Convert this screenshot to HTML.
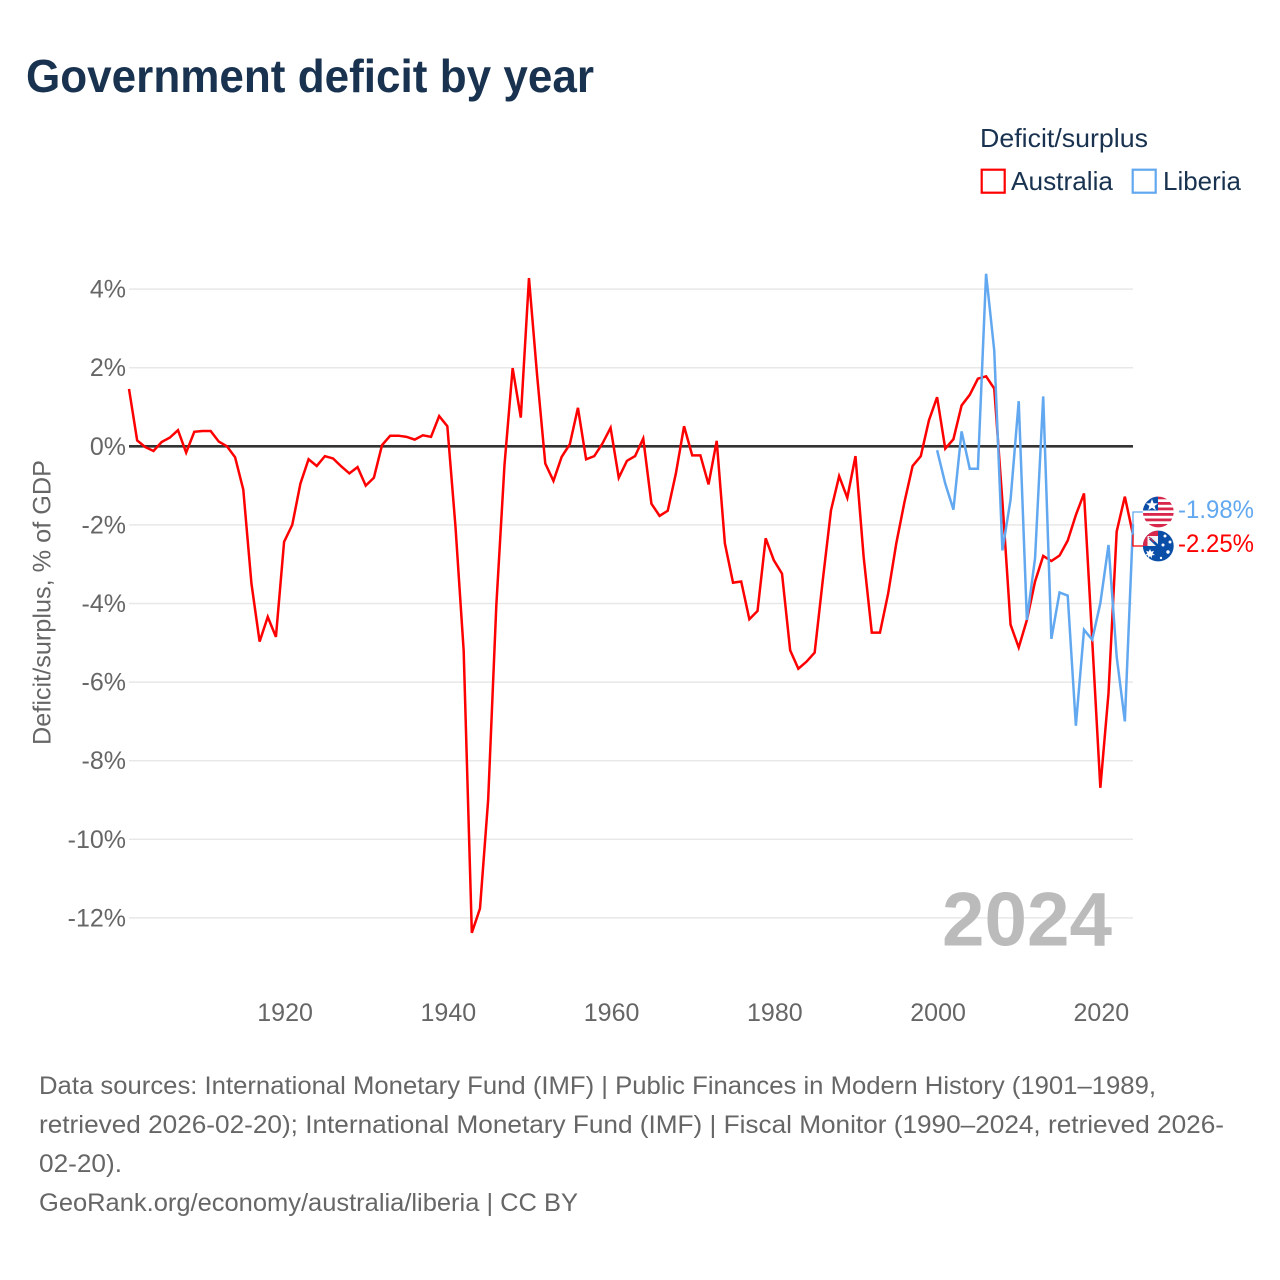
<!DOCTYPE html>
<html lang="en">
<head>
<meta charset="utf-8">
<title>Government deficit by year</title>
<style>
  html, body { margin: 0; padding: 0; background: #fff; }
  svg { display: block; font-family: "Liberation Sans", sans-serif; }
  .tick { font-size: 25px; fill: #666; }
  .foot { font-size: 25px; fill: #666; }
  .leg { font-size: 26px; fill: #18324f; }
</style>
</head>
<body>
<svg id="chart" xmlns="http://www.w3.org/2000/svg" width="1280" height="1280" viewBox="0 0 1280 1280">
  <defs>
    <clipPath id="flag-clip-lr"><circle cx="1158.3" cy="512" r="15.4"/></clipPath>
    <clipPath id="flag-clip-au"><circle cx="1158.3" cy="546" r="15.4"/></clipPath>
  </defs>
  <rect width="1280" height="1280" fill="#fff"/>
  <text x="26" y="92" font-size="46" font-weight="700" fill="#18324f" textLength="568" lengthAdjust="spacingAndGlyphs">Government deficit by year</text>

  <text class="leg" x="980" y="147" textLength="168" lengthAdjust="spacingAndGlyphs">Deficit/surplus</text>
  <g>
    <rect x="981.7" y="169.7" width="23" height="23" fill="#fff" stroke="#ff0000" stroke-width="2.2"/>
    <text class="leg" x="1011" y="190" textLength="102" lengthAdjust="spacingAndGlyphs">Australia</text>
  </g>
  <g>
    <rect x="1132.7" y="169.7" width="23" height="23" fill="#fff" stroke="#62a8f0" stroke-width="2.2"/>
    <text class="leg" x="1163" y="190" textLength="78" lengthAdjust="spacingAndGlyphs">Liberia</text>
  </g>

  <g id="grid"></g>
  <g id="yticks"></g>
  <g id="xticks"></g>

  <text x="0" y="0" transform="translate(50.5,602.5) rotate(-90)" text-anchor="middle" font-size="25" fill="#666" textLength="285" lengthAdjust="spacingAndGlyphs">Deficit/surplus, % of GDP</text>

  <text id="year-watermark" x="942" y="945.5" font-size="76" font-weight="700" fill="#bbbbbb" textLength="170" lengthAdjust="spacingAndGlyphs">2024</text>

  <g id="series"></g>
  <g id="connectors"></g>

  <g clip-path="url(#flag-clip-lr)">
    <rect x="1142" y="496" width="33" height="33" fill="#fff"/>
    <rect x="1142" y="496.5" width="33" height="2.8" fill="#d8274a"/>
    <rect x="1142" y="502" width="33" height="2.8" fill="#d8274a"/>
    <rect x="1142" y="507.5" width="33" height="2.8" fill="#d8274a"/>
    <rect x="1142" y="513" width="33" height="2.8" fill="#d8274a"/>
    <rect x="1142" y="518.5" width="33" height="2.8" fill="#d8274a"/>
    <rect x="1142" y="524" width="33" height="4.5" fill="#d8274a"/>
    <rect x="1142" y="496" width="16" height="14.5" fill="#0a4ea8"/>
    <polygon points="1152,499 1153.6,503.2 1158,503.4 1154.6,506 1155.8,510.2 1152,507.8 1148.2,510.2 1149.4,506 1146,503.4 1150.4,503.2" fill="#fff"/>
  </g>
  <g clip-path="url(#flag-clip-au)">
    <rect x="1142" y="530" width="33" height="33" fill="#0a4ea8"/>
    <rect x="1142" y="530" width="16" height="16" fill="#d8274a"/>
    <rect x="1147.5" y="536" width="10.5" height="10" fill="#f3f3f3"/>
    <path d="M1150 538.5 L1158 546" stroke="#0a4ea8" stroke-width="2.6" fill="none"/>
    <path d="M1149 537 L1154 542" stroke="#d8274a" stroke-width="1.2" fill="none"/>
    <polygon points="1150,549 1151.2,551.6 1154,550.8 1152.6,553.4 1155,555 1152,555.4 1151.6,558.4 1150,556 1148.4,558.4 1148,555.4 1145,555 1147.4,553.4 1146,550.8 1148.8,551.6" fill="#fff"/>
    <circle cx="1165" cy="536" r="1.5" fill="#fff"/>
    <circle cx="1170" cy="542" r="1.5" fill="#fff"/>
    <circle cx="1163" cy="545" r="1.5" fill="#fff"/>
    <circle cx="1168" cy="552" r="1.7" fill="#fff"/>
    <circle cx="1161" cy="558" r="1.2" fill="#fff"/>
  </g>
  <text id="label-liberia" x="1178" y="518" font-size="25" fill="#62a8f0" textLength="76" lengthAdjust="spacingAndGlyphs"></text>
  <text id="label-australia" x="1178" y="552" font-size="25" fill="#ff0000" textLength="76" lengthAdjust="spacingAndGlyphs"></text>

  <g>
    <text class="foot" x="39" y="1094" textLength="1117" lengthAdjust="spacingAndGlyphs">Data sources: International Monetary Fund (IMF) | Public Finances in Modern History (1901–1989,</text>
    <text class="foot" x="39" y="1133" textLength="1185" lengthAdjust="spacingAndGlyphs">retrieved 2026-02-20); International Monetary Fund (IMF) | Fiscal Monitor (1990–2024, retrieved 2026-</text>
    <text class="foot" x="39" y="1172" textLength="83" lengthAdjust="spacingAndGlyphs">02-20).</text>
    <text class="foot" x="39" y="1211" textLength="539" lengthAdjust="spacingAndGlyphs">GeoRank.org/economy/australia/liberia | CC BY</text>
  </g>
</svg>
<script>
// Chart data
const australiaStartYear = 1901;
const australiaValues = [
  1.46, 0.15, -0.02, -0.12, 0.11, 0.22, 0.41, -0.16, 0.37, 0.39,
  0.39, 0.12, 0.0, -0.28, -1.10, -3.49, -4.97, -4.34, -4.85, -2.43,
  -2.0, -0.95, -0.33, -0.5, -0.25, -0.31, -0.51, -0.69, -0.53, -1.0,
  -0.8, 0.03, 0.27, 0.27, 0.24, 0.17, 0.28, 0.24, 0.77, 0.51,
  -2.05, -5.2, -12.38, -11.76, -9.0, -4.05, -0.48, 1.99, 0.73, 4.28,
  1.8, -0.44, -0.88, -0.27, 0.05, 0.98, -0.33, -0.25, 0.07, 0.47,
  -0.8, -0.37, -0.25, 0.2, -1.46, -1.77, -1.64, -0.69, 0.51, -0.23,
  -0.23, -0.97, 0.14, -2.47, -3.47, -3.44, -4.4, -4.19, -2.34, -2.9,
  -3.24, -5.19, -5.66, -5.48, -5.25, -3.4, -1.63, -0.76, -1.31, -0.25,
  -2.81, -4.74, -4.74, -3.75, -2.47, -1.42, -0.5, -0.25, 0.66, 1.25,
  -0.06, 0.18, 1.04, 1.31, 1.72, 1.78, 1.47, -1.4, -4.54, -5.12,
  -4.42, -3.44, -2.79, -2.92, -2.78, -2.4, -1.75, -1.2, -4.92, -8.69,
  -6.28, -2.17, -1.28, -2.25
];
const liberiaStartYear = 2000;
const liberiaValues = [
  -0.1, -0.95, -1.61, 0.38, -0.57, -0.57, 4.39, 2.44, -2.65, -1.36,
  1.15, -4.42, -2.85, 1.27, -4.9, -3.72, -3.8, -7.11, -4.67, -4.92,
  -3.99, -2.51, -5.35, -7.0, -1.98
];
const yTickValues = [4, 2, 0, -2, -4, -6, -8, -10, -12];
const xTickYears = [1920, 1940, 1960, 1980, 2000, 2020];

// Axis functions
const xDomain = [1901, 2024];
const xRange = [129, 1133];
const yZero = 446.3;
const yPerUnit = 39.3;
function xScale(year) {
  return xRange[0] + (year - xDomain[0]) * (xRange[1] - xRange[0]) / (xDomain[1] - xDomain[0]);
}
function yScale(v) {
  return yZero - v * yPerUnit;
}

const svgNS = 'http://www.w3.org/2000/svg';
function make(tag, parent, attrs, text) {
  const el = document.createElementNS(svgNS, tag);
  for (const k in attrs) el.setAttribute(k, attrs[k]);
  if (text !== undefined) el.textContent = text;
  parent.appendChild(el);
  return el;
}

const gridG = document.getElementById('grid');
const yTickG = document.getElementById('yticks');
const xTickG = document.getElementById('xticks');
const seriesG = document.getElementById('series');
const connG = document.getElementById('connectors');

yTickValues.forEach(function (v) {
  const line = make('line', gridG, {
    x1: xRange[0], x2: xRange[1], y1: yScale(v), y2: yScale(v),
    stroke: v === 0 ? '#333333' : '#e8e8e8',
    'stroke-width': v === 0 ? 2.6 : 1.5
  });
  
  
  const label = make('text', yTickG, {
    x: 126, y: yScale(v) + 8.5, 'text-anchor': 'end', class: 'tick'
  }, v + '%');
  
  
});

xTickYears.forEach(function (yr) {
  const label = make('text', xTickG, {
    x: xScale(yr) + 1, y: 1021, 'text-anchor': 'middle', class: 'tick'
  }, String(yr));
  
  
});

function pathFor(startYear, values) {
  return values.map(function (v, i) {
    return (i ? 'L' : 'M') + xScale(startYear + i).toFixed(2) + ' ' + yScale(v).toFixed(2);
  }).join(' ');
}

const ausLine = make('path', seriesG, {
  d: pathFor(australiaStartYear, australiaValues),
  fill: 'none', stroke: '#ff0000', 'stroke-width': 2.5, 'stroke-linejoin': 'miter'
});



const libLine = make('path', seriesG, {
  d: pathFor(liberiaStartYear, liberiaValues),
  fill: 'none', stroke: '#62a8f0', 'stroke-width': 2.5, 'stroke-linejoin': 'miter'
});



const ausLast = australiaValues[australiaValues.length - 1];
const libLast = liberiaValues[liberiaValues.length - 1];

const connAus = make('path', connG, {
  d: 'M' + xRange[1] + ' ' + yScale(ausLast) + ' V546 H1143',
  fill: 'none', stroke: '#ff0000', 'stroke-width': 1.3
});



const connLib = make('path', connG, {
  d: 'M' + xRange[1] + ' ' + yScale(libLast) + ' V512 H1143',
  fill: 'none', stroke: '#62a8f0', 'stroke-width': 1.3
});



document.getElementById('label-liberia').textContent = libLast.toFixed(2) + '%';
document.getElementById('label-australia').textContent = ausLast.toFixed(2) + '%';
</script>
</body>
</html>
